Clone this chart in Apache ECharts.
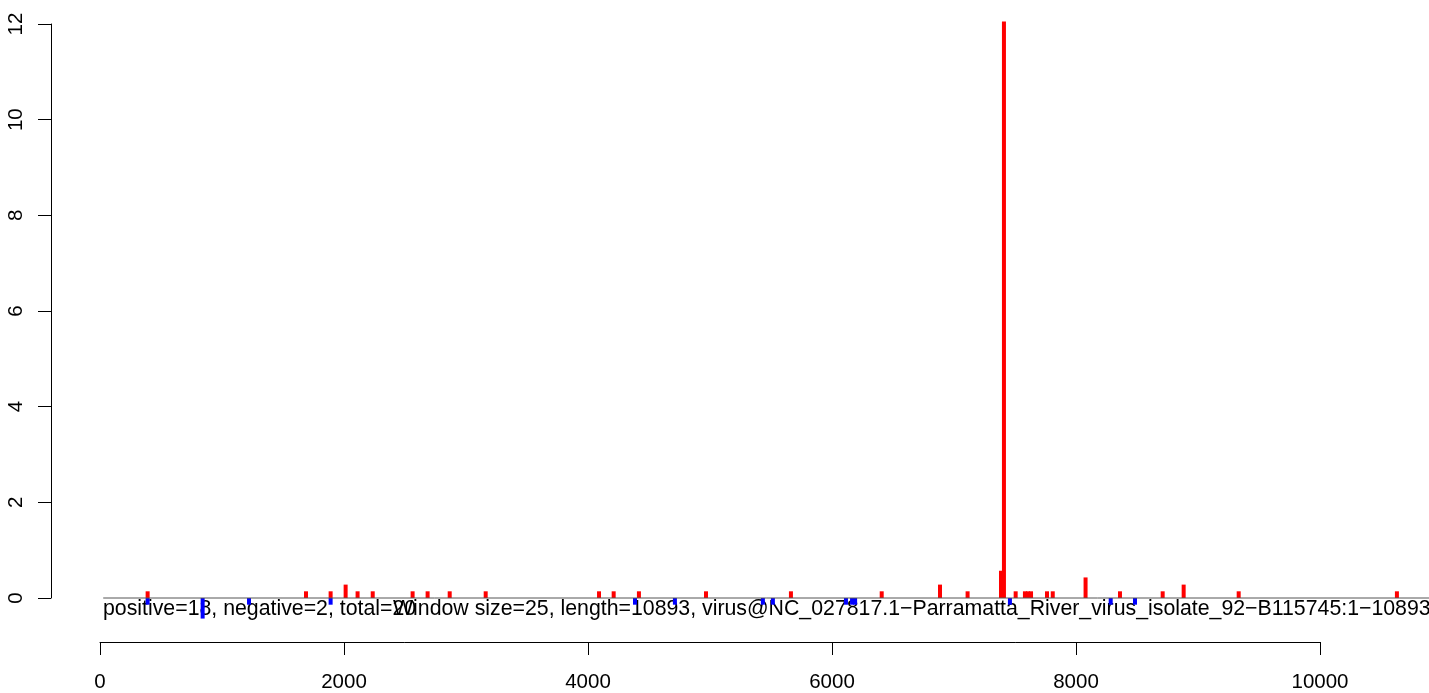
<!DOCTYPE html>
<html style="height: 100%">
<head>
<meta charset="utf-8">
<script src="https://cdn.jsdelivr.net/npm/echarts@6/dist/echarts.min.js"></script>
</head>
<body style="height: 100%; margin: 0; background: #fff">
<div id="container" style="width: 1429px; height: 693px"></div>
<script type="text/javascript">
// window positions (nt) and scores
var posX = [389, 1687, 1889, 2012, 2110, 2234, 2561, 2684, 2865, 3160,
            4089, 4209, 4416, 4966, 5662, 6406, 6884, 7110, 7384, 7408,
            7504, 7580, 7605, 7630, 7761, 7808, 8077, 8359, 8709, 8881,
            9332, 10629];
var posY = [0.14, 0.14, 0.14, 0.28, 0.14, 0.14, 0.14, 0.14, 0.14, 0.14,
            0.14, 0.14, 0.14, 0.14, 0.14, 0.14, 0.28, 0.14, 0.57, 12.05,
            0.14, 0.14, 0.14, 0.14, 0.14, 0.14, 0.43, 0.14, 0.14, 0.28,
            0.14, 0.14];
var negX = [389, 840, 1220, 1889, 4384, 4711, 5432, 5514, 6113, 6163,
            6188, 7457, 8283, 8482];
var negY = [-0.14, -0.43, -0.14, -0.14, -0.14, -0.14, -0.14, -0.14, -0.14, -0.14,
            -0.14, -0.14, -0.14, -0.14];
var seqRange = [25, 10893];
var xTicks = [0, 10000, 2000];
var yTicks = [0, 12, 2];

var infoText = 'positive=18, negative=2, total=20';
var titleText = 'Window size=25, length=10893, virus@NC_027817.1\u2212Parramatta_River_virus_isolate_92\u2212B115745:1\u221210893';

function pairs(xs, ys) {
    var out = [];
    for (var i = 0; i < xs.length; i++) {
        out.push([xs[i], ys[i]]);
    }
    return out;
}

function plain(v) {
    return String(v);
}

var FONT = 'Liberation Sans, Arial, Helvetica, sans-serif';

var myChart = echarts.init(document.getElementById('container'));

var option = {
    animation: false,
    backgroundColor: '#fff',
    textStyle: {fontFamily: FONT},
    grid: [
        {left: 51, right: 0, top: 24, height: 574},
        {left: 100, width: 1220, top: 600, height: 42}
    ],
    xAxis: [
        {
            type: 'value', gridIndex: 0, min: -403, max: 10892,
            show: false
        },
        {
            type: 'value', gridIndex: 1, min: xTicks[0], max: xTicks[1], interval: xTicks[2],
            position: 'bottom',
            axisLine: {show: true, onZero: false, lineStyle: {color: '#000', width: 1}},
            axisTick: {show: true, length: 13, lineStyle: {color: '#000', width: 1}},
            axisLabel: {color: '#000', fontSize: 20.5, margin: 30, fontFamily: FONT, formatter: plain},
            splitLine: {show: false}
        }
    ],
    yAxis: [
        {
            type: 'value', gridIndex: 0, min: yTicks[0], max: yTicks[1], interval: yTicks[2],
            axisLine: {show: true, onZero: false, lineStyle: {color: '#000', width: 1}},
            axisTick: {show: true, length: 13, lineStyle: {color: '#000', width: 1}},
            axisLabel: {color: '#000', fontSize: 20.5, rotate: 90, margin: 24, fontFamily: FONT, formatter: plain},
            splitLine: {show: false}
        },
        {type: 'value', gridIndex: 1, show: false}
    ],
    series: [
        {
            type: 'line', xAxisIndex: 0, yAxisIndex: 0,
            data: [[seqRange[0], 0], [seqRange[1], 0]],
            symbol: 'none', clip: false, silent: true,
            lineStyle: {color: '#555', width: 1}
        },
        {
            type: 'bar', xAxisIndex: 0, yAxisIndex: 0,
            data: pairs(posX, posY),
            barWidth: 4, barGap: '-100%', clip: false,
            itemStyle: {color: '#ff0000'}
        },
        {
            type: 'bar', xAxisIndex: 0, yAxisIndex: 0,
            data: pairs(negX, negY),
            barWidth: 4, barGap: '-100%', clip: false,
            itemStyle: {color: '#0000ff'}
        }
    ],
    graphic: [
        {
            type: 'text', left: 103, top: 599,
            style: {text: infoText, fill: '#000', font: '21.3px ' + FONT}
        },
        {
            type: 'text', left: 393, top: 599,
            style: {text: titleText, fill: '#000', font: '21.3px ' + FONT}
        }
    ]
};

myChart.setOption(option);
</script>
</body>
</html>
